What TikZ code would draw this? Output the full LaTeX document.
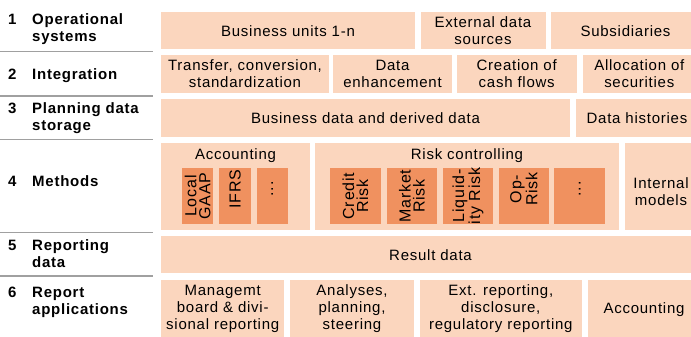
\documentclass[tikz,border=0pt]{standalone}
\usepackage{fontspec}
\setmainfont{Liberation Sans}[LetterSpace=5]
\definecolor{boxlight}{RGB}{251,214,190}
\definecolor{boxdark}{RGB}{240,145,95}
\definecolor{rulegray}{RGB}{160,160,160}
\begin{document}
\begin{tikzpicture}
[x=1pt,y=-1pt,
 boxfill/.style={fill=boxlight},
 innerfill/.style={fill=boxdark},
 boxtext/.style={align=center,inner sep=0pt,font=\fontsize{15}{17}\selectfont},
 sidetext/.style={align=left,anchor=west,inner sep=0pt,font=\bfseries\fontsize{15}{17}\selectfont},
 turntext/.style={align=center,inner sep=0pt,rotate=90,font=\fontsize{16}{14}\selectfont},
 rulerline/.style={line width=1.6pt,draw=rulegray}]
\useasboundingbox (0,0) rectangle (691,337);
\clip (0,0) rectangle (691,337);
%% the layer boxes
\foreach \xa/\ya/\xb/\yb in {161/12.3/415/49.3, 421/12.3/545.7/49.3, 550.7/12.3/700/49.3,
  161/55/329/92.7, 333/55/452/92.7, 456.7/55/576.7/92.7, 582.7/55/700/92.7,
  161/98.7/570/136.7, 576/98.7/700/136.7,
  161/143.3/310/230, 315/143.3/619.3/230, 625/143.3/710/230,
  161/236/700/273.3,
  161/280/284.3/345, 290/280/414/345, 420/280/581.7/345, 587.7/280/700/345}
{
  \fill[boxfill] (\xa,\ya) rectangle (\xb,\yb);
}
%% the method boxes
\foreach \xa/\xb in {182/213.3, 219.3/250.7, 256.7/287.7, 330/381, 386.7/437.3,
  442.7/493.3, 498.7/549, 554.3/605}
{
  \fill[innerfill] (\xa,167.7) rectangle (\xb,224.3);
}
%% separator rules
\foreach \y in {51.7, 96, 139.5, 232.5, 275.7} {
  \draw[rulerline] (0,\y) -- (153,\y);
}
%% layer names
\foreach \name/\y/\txt in {lab1/29.5/{\makebox[24pt][l]{1}Operational\\\makebox[24pt]{}systems},
  lab2/76/{\makebox[24pt][l]{2}Integration},
  lab3/118/{\makebox[24pt][l]{3}Planning data\\\makebox[24pt]{}storage},
  lab4/181/{\makebox[24pt][l]{4}Methods},
  lab5/254/{\makebox[24pt][l]{5}Reporting\\\makebox[24pt]{}data},
  lab6/302/{\makebox[24pt][l]{6}Report\\\makebox[24pt]{}applications}}
{
  \node[sidetext] (\name) at (8,\y) {\txt};
}
%% box texts
\foreach \name/\x/\y/\txt in {units/288/30.8/{Business units 1-n},
  extern/483/30.8/{External data\\sources}, subsid/625.5/30.8/{Subsidiaries},
  transfer/245/73.8/{Transfer, conversion,\\standardization},
  enhance/392.5/73.8/{Data\\enhancement}, cashflow/516.7/73.8/{Creation of\\cash flows},
  alloc/639.3/73.8/{Allocation of\\securities},
  busdata/365.5/117.7/{Business data and derived data}, hist/637/117.7/{Data histories},
  acct/235.5/155.5/{Accounting}, risk/467/155.5/{Risk controlling},
  models/661/192/{Internal\\models},
  result/430.5/254.7/{Result data},
  mgmt/222.7/308.5/{Managemt\\board \& divi-\\sional reporting},
  analyses/352/308.5/{Analyses,\\planning,\\steering},
  extrep/500.8/308.5/{Ext. reporting,\\disclosure,\\regulatory reporting},
  acctrep/644/310/{Accounting}}
{
  \node[boxtext] (\name) at (\x,\y) {\txt};
}
%% method names
\foreach \name/\x/\y/\txt in {local/197.7/196/{Local\\GAAP}, ifrs/235/189/{IFRS},
  adots/272.2/189/{...}, credit/355.5/196/{Credit\\Risk}, market/412/196/{Market\\Risk},
  liquid/468/196/{Liquid-\\ity Risk}, oprisk/523.9/189/{Op-\\Risk}, rdots/579.7/189/{...}}
{
  \node[turntext] (\name) at (\x,\y) {\txt};
}
\end{tikzpicture}
\end{document}
